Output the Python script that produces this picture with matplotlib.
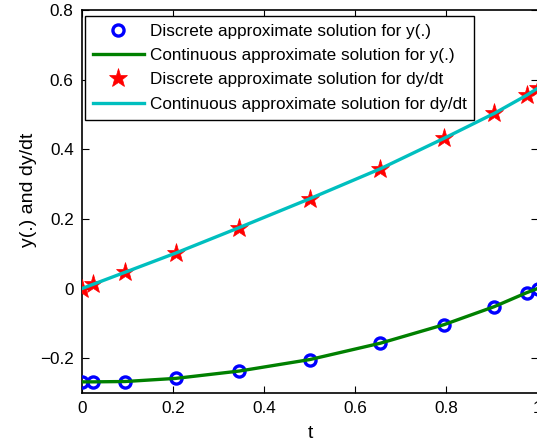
import numpy as np
import matplotlib.pyplot as plt

plt.rcParams['font.family'] = ['Liberation Sans', 'DejaVu Sans']

# collocation nodes on [0, 1]
t_nodes = [0.0, 0.024, 0.095, 0.206, 0.345, 0.5, 0.655, 0.794, 0.905, 0.976, 1.0]

# values
y_vals = [-0.268, -0.268, -0.267, -0.258, -0.237, -0.204, -0.157, -0.104, -0.052, -0.012, 0.0]
dy_vals = [0.0, 0.012, 0.047, 0.102, 0.175, 0.258, 0.344, 0.431, 0.503, 0.555, 0.575]

legend_labels = [
    'Discrete approximate solution for y(.)',
    'Continuous approximate solution for y(.)',
    'Discrete approximate solution for dy/dt',
    'Continuous approximate solution for dy/dt',
]

fig = plt.figure(figsize=(5.37, 4.42), dpi=100)
ax = fig.add_axes([82 / 537, 1 - 393 / 442, 455.5 / 537, 383 / 442])

ax.plot(t_nodes, y_vals, 'o', color='blue', markerfacecolor='none',
        markersize=8, markeredgewidth=2.4, label=legend_labels[0], zorder=3)
ax.plot(t_nodes, y_vals, '-', color=(0, 0.5, 0), linewidth=2.4,
        label=legend_labels[1], zorder=4)
ax.plot(t_nodes, dy_vals, '*', color='red', markersize=14,
        markeredgewidth=0.5, label=legend_labels[2], zorder=3)
ax.plot(t_nodes, dy_vals, '-', color=(0, 0.75, 0.75), linewidth=2.4,
        label=legend_labels[3], zorder=4)

ax.set_xlim(0, 1)
ax.set_ylim(-0.3, 0.8)
ax.set_xticks([0, 0.2, 0.4, 0.6, 0.8, 1.0])
ax.set_xticklabels(['0', '0.2', '0.4', '0.6', '0.8', '1'])
ax.set_yticks([-0.2, 0, 0.2, 0.4, 0.6, 0.8])
ax.set_yticklabels(['\u22120.2', '0', '0.2', '0.4', '0.6', '0.8'])
ax.tick_params(direction='in', length=5, width=0.8, labelsize=12.3,
               top=True, right=True, pad=6)
for s in ax.spines.values():
    s.set_linewidth(1.2)

ax.set_xlabel('t', fontsize=14)
ax.set_ylabel('y(.) and dy/dt', fontsize=14)
ax.xaxis.set_label_coords(0.501, -0.084)
ax.yaxis.set_label_coords(-0.098, 0.53)

leg = ax.legend(loc='upper left', bbox_to_anchor=(3 / 455.5, 1 - 6 / 383),
                fontsize=12.3, frameon=True, fancybox=False,
                edgecolor='black', framealpha=1, borderpad=0.45,
                labelspacing=0.55, handlelength=3.0, handletextpad=0.35,
                borderaxespad=0, numpoints=1)
leg.get_frame().set_linewidth(1.0)

fig.savefig('out.png', dpi=100)
